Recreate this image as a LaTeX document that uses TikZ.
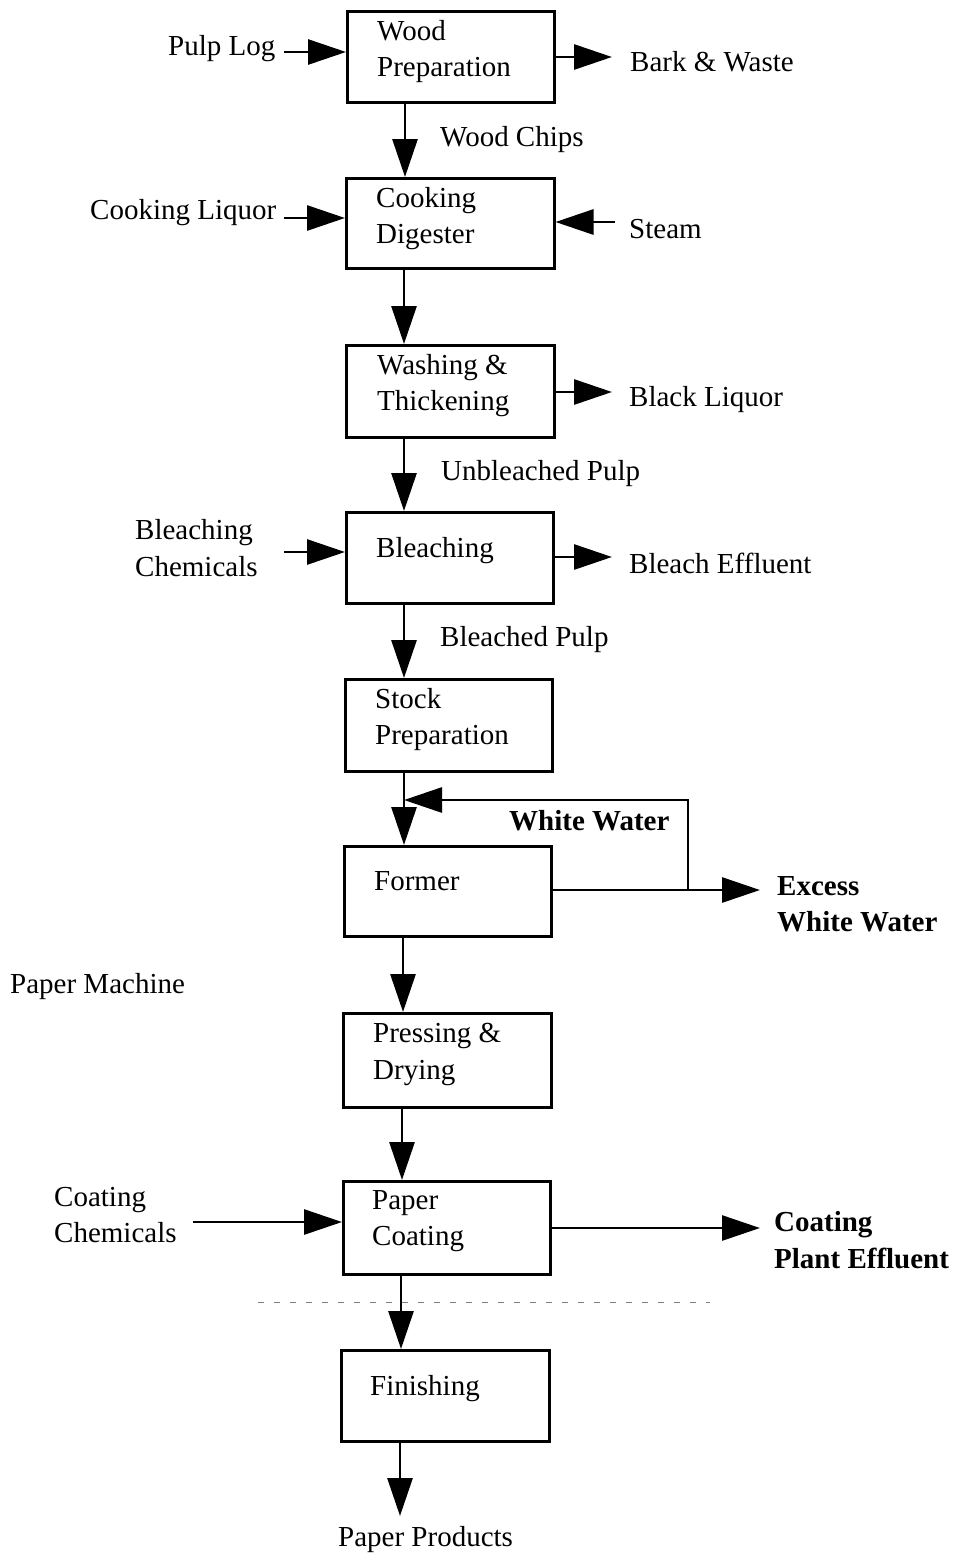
\documentclass[tikz,border=0pt]{standalone}
\usepackage{fontspec}
\setmainfont{Liberation Serif}
\usetikzlibrary{arrows.meta}
\begin{document}
\begin{tikzpicture}[x=1pt,y=1pt,
  every node/.style={font=\fontsize{29}{36.5}\selectfont, inner sep=0pt},
  box/.style={draw, line width=2.5pt, anchor=north west, minimum width=#1, minimum height=91pt},
  btxt/.style={anchor=north west, align=left},
  lbl/.style={anchor=base west},
  blbl/.style={font=\fontsize{29}{36.5}\selectfont\bfseries, align=left},
  arr/.style={line width=2.8pt, -{Triangle[length=38pt,width=25pt]}}
]
\useasboundingbox (0,0) rectangle (962,-1553);
% boxes
\node[box=207pt, minimum height=91pt] (wp) at (346,-10) {};
\node[box=208pt, minimum height=90pt] (cd) at (345,-177) {};
\node[box=208pt, minimum height=92pt] (wt) at (345,-344) {};
\node[box=207pt, minimum height=91pt] (bl) at (345,-511) {};
\node[box=207pt, minimum height=92pt] (sp) at (344,-678) {};
\node[box=207pt, minimum height=90pt] (fm) at (343,-845) {};
\node[box=208pt, minimum height=94pt] (pd) at (342,-1012) {};
\node[box=207pt, minimum height=93pt] (pc) at (342,-1180) {};
\node[box=208pt, minimum height=91pt] (fn) at (340,-1349) {};
% box texts
\node[btxt] (wpT) at (377,-20) {Wood\\Preparation};
\node[btxt] (cdT) at (376,-187) {Cooking\\Digester};
\node[btxt] (wtT) at (377,-354) {Washing \&\\Thickening};
\node[btxt] (blT) at (376,-537) {Bleaching};
\node[btxt] (spT) at (375,-688) {Stock\\Preparation};
\node[btxt] (fmT) at (374,-871) {Former};
\node[btxt] (pdT) at (373,-1023) {Pressing \&\\Drying};
\node[btxt] (pcT) at (372,-1190) {Paper\\Coating};
\node[btxt] (fnT) at (370,-1375) {Finishing};
% labels
\node[lbl] (pulp) at (168,-55) {Pulp Log};
\node[lbl] (bark) at (630,-71) {Bark \& Waste};
\node[lbl] (chips) at (440,-146) {Wood Chips};
\node[lbl] (liq) at (90,-219) {Cooking Liquor};
\node[lbl] (steam) at (629,-238) {Steam};
\node[lbl] (black) at (629,-406) {Black Liquor};
\node[lbl] (unbl) at (441,-480) {Unbleached Pulp};
\node[anchor=west, align=left] (bchem) at (135,-548) {Bleaching\\Chemicals};
\node[lbl] (beff) at (629,-573) {Bleach Effluent};
\node[lbl] (bpulp) at (440,-646) {Bleached Pulp};
\node[blbl, anchor=base west] (ww) at (509,-830) {White Water};
\node[blbl, anchor=west] (eww) at (777,-904) {Excess\\White Water};
\node[lbl] (pm) at (10,-993) {Paper Machine};
\node[anchor=west, align=left] (cchem) at (54,-1215) {Coating\\Chemicals};
\node[blbl, anchor=west] (cpe) at (774,-1240) {Coating\\Plant Effluent};
\node[lbl] (pp) at (338,-1546) {Paper Products};
% horizontal arrows
\coordinate (a1) at (284,-52);   \draw[arr] (a1) -- (a1 -| wp.west);
\coordinate (a2) at (612,-57);   \draw[arr] (a2 -| wp.east) -- (a2);
\coordinate (a3) at (284,-218);  \draw[arr] (a3) -- (a3 -| cd.west);
\coordinate (a4) at (615,-222);  \draw[arr] (a4) -- (a4 -| cd.east);
\coordinate (a5) at (612,-392);  \draw[arr] (a5 -| wt.east) -- (a5);
\coordinate (a6) at (284,-552);  \draw[arr] (a6) -- (a6 -| bl.west);
\coordinate (a7) at (612,-557);  \draw[arr] (a7 -| bl.east) -- (a7);
\coordinate (a8) at (760,-890);  \draw[arr] (a8 -| fm.east) -- (a8);
\coordinate (a9) at (193,-1222); \draw[arr] (a9) -- (a9 -| pc.west);
\coordinate (a10) at (760,-1228); \draw[arr] (a10 -| pc.east) -- (a10);
% vertical arrows
\draw[arr] ([xshift=59pt]wp.south west) coordinate (v1) -- (v1 |- cd.north);
\draw[arr] ([xshift=59pt]cd.south west) coordinate (v2) -- (v2 |- wt.north);
\draw[arr] ([xshift=59pt]wt.south west) coordinate (v3) -- (v3 |- bl.north);
\draw[arr] ([xshift=59pt]bl.south west) coordinate (v4) -- (v4 |- sp.north);
\draw[arr] ([xshift=60pt]sp.south west) coordinate (v5) -- (v5 |- fm.north);
\draw[arr] ([xshift=60pt]fm.south west) coordinate (v6) -- (v6 |- pd.north);
\draw[arr] ([xshift=60pt]pd.south west) coordinate (v7) -- (v7 |- pc.north);
\draw[arr] ([xshift=59pt]pc.south west) coordinate (v8) -- (v8 |- fn.north);
\coordinate (pend) at (400,-1516);
\draw[arr] ([xshift=60pt]fn.south west) coordinate (v9) -- (v9 |- pend);
% white water recycle
\coordinate (jn) at (688,-890);
\coordinate (wwc) at (688,-800);
\draw[arr] (jn) -- (wwc) -- (wwc -| v5);
% paper machine boundary (faint dashed)
\coordinate (d1) at (258,-1302);
\coordinate (d2) at (710,-1302);
\draw[gray, line width=1pt, dash pattern=on 6pt off 10pt] (d1) -- (d2);
\end{tikzpicture}
\end{document}
